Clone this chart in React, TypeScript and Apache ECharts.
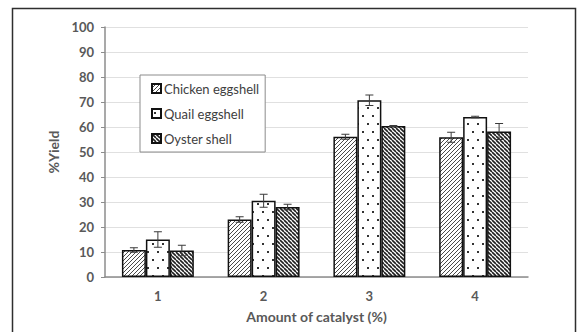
import React, { useEffect, useRef } from "react";
import * as echarts from "echarts";

const categories = ["1", "2", "3", "4"];
const seriesNames = ["Chicken eggshell", "Quail eggshell", "Oyster shell"];
const chickenYield = [10.8, 23.0, 56.1, 55.9];
const quailYield = [15.0, 30.5, 70.7, 64.0];
const oysterYield = [10.6, 28.0, 60.4, 58.2];
const chickenErr = [0.9, 1.1, 1.0, 2.0];
const quailErr = [3.1, 2.6, 2.1, 0.3];
const oysterErr = [2.1, 1.1, 0.2, 3.2];
const yTicks = { min: 0, max: 100, interval: 10 };

const BAR_CATEGORY_GAP = 0.32;

function makePattern(kind: "fwd" | "back" | "dots"): string {
  const c = document.createElement("canvas");
  const ctx = c.getContext("2d")!;
  if (kind === "dots") {
    c.width = 10;
    c.height = 16;
    ctx.fillStyle = "#ffffff";
    ctx.fillRect(0, 0, 10, 16);
    ctx.fillStyle = "#333333";
    ctx.fillRect(2, 3, 2, 2);
    ctx.fillRect(7, 11, 2, 2);
  } else {
    const s = 4;
    c.width = s;
    c.height = s;
    ctx.fillStyle = "#ffffff";
    ctx.fillRect(0, 0, s, s);
    ctx.strokeStyle = kind === "fwd" ? "#4a4a4a" : "#202020";
    ctx.lineWidth = kind === "fwd" ? 1 : 1.6;
    ctx.beginPath();
    for (let k = -1; k <= 1; k++) {
      if (kind === "fwd") {
        ctx.moveTo(k * s, s);
        ctx.lineTo(k * s + s, 0);
      } else {
        ctx.moveTo(k * s, 0);
        ctx.lineTo(k * s + s, s);
      }
    }
    ctx.stroke();
  }
  return c.toDataURL();
}

export default function App() {
  const ref = useRef<HTMLDivElement>(null);

  useEffect(() => {
    document.body.style.margin = "0";
    const chart = echarts.init(ref.current!, null, { renderer: "svg" });

    const fills = [makePattern("fwd"), makePattern("dots"), makePattern("back")];
    const values = [chickenYield, quailYield, oysterYield];
    const errors = [chickenErr, quailErr, oysterErr];

    const bars = seriesNames.map((name, i) => ({
      name,
      type: "bar",
      data: values[i],
      barGap: "0%",
      barCategoryGap: `${BAR_CATEGORY_GAP * 100}%`,
      itemStyle: {
        color: { image: fills[i], repeat: "repeat" },
        borderColor: "#111111",
        borderWidth: 1.5,
      },
      z: 2,
    }));

    const errorSeries = seriesNames.map((name, i) => ({
      name: name + " error",
      type: "custom",
      z: 5,
      silent: true,
      data: values[i].map((v, k) => [k, v, errors[i][k]]),
      encode: { x: 0, y: 1 },
      renderItem: (params: any, api: any) => {
        const idx = api.value(0);
        const v = api.value(1);
        const e = api.value(2);
        const catW = api.size([1, 0])[0];
        const bw = (catW * (1 - BAR_CATEGORY_GAP)) / seriesNames.length;
        const cx = api.coord([idx, v])[0] + (i - 1) * bw;
        const yTop = api.coord([idx, v + e])[1];
        const yBot = api.coord([idx, v - e])[1];
        const cap = 4;
        const style = { stroke: "#3a3a3a", lineWidth: 1 };
        return {
          type: "group",
          children: [
            { type: "line", shape: { x1: cx, y1: yTop, x2: cx, y2: yBot }, style },
            { type: "line", shape: { x1: cx - cap, y1: yTop, x2: cx + cap, y2: yTop }, style },
            { type: "line", shape: { x1: cx - cap, y1: yBot, x2: cx + cap, y2: yBot }, style },
          ],
        };
      },
    }));

    const labelFont = {
      fontFamily: "Lato, 'Open Sans', sans-serif",
      fontWeight: "bold" as const,
      color: "#595959",
      fontSize: 13,
    };

    chart.setOption({
      animation: false,
      backgroundColor: "#ffffff",
      grid: { left: 105, right: 50, top: 27, bottom: 55, containLabel: false },
      legend: {
        data: seriesNames,
        orient: "vertical",
        left: 140,
        top: 75,
        icon: "rect",
        itemWidth: 9,
        itemHeight: 9,
        itemGap: 12,
        padding: [7, 6, 7, 11],
        backgroundColor: "#ffffff",
        borderColor: "#8c8c8c",
        borderWidth: 1,
        textStyle: {
          fontFamily: "Lato, 'Open Sans', sans-serif",
          fontSize: 13,
          color: "#404040",
          padding: [0, 0, 0, -2],
        },
      },
      xAxis: {
        type: "category",
        data: categories,
        name: "Amount of catalyst (%)",
        nameLocation: "middle",
        nameGap: 32,
        nameTextStyle: { ...labelFont, fontSize: 14 },
        axisLine: { lineStyle: { color: "#8c8c8c", width: 1.5 } },
        axisTick: { show: false },
        axisLabel: { ...labelFont, margin: 12 },
      },
      yAxis: {
        type: "value",
        min: yTicks.min,
        max: yTicks.max,
        interval: yTicks.interval,
        name: "%Yield",
        nameLocation: "middle",
        nameGap: 38,
        nameTextStyle: { ...labelFont, fontSize: 14 },
        axisLine: { show: true, lineStyle: { color: "#8c8c8c", width: 1.5 } },
        axisTick: { show: true, length: 4, lineStyle: { color: "#8c8c8c" } },
        axisLabel: { ...labelFont, margin: 11 },
        splitLine: { lineStyle: { color: "#e0e0e0", width: 1 } },
      },
      graphic: [
        {
          type: "rect",
          shape: { x: 12.5, y: 8.5, width: 563, height: 340 },
          style: { fill: "none", stroke: "#2e2e2e", lineWidth: 1.5 },
          silent: true,
          z: 0,
        },
      ],
      series: [...bars, ...errorSeries],
    });

    return () => chart.dispose();
  }, []);

  return <div ref={ref} style={{ width: 578, height: 332 }} />;
}
